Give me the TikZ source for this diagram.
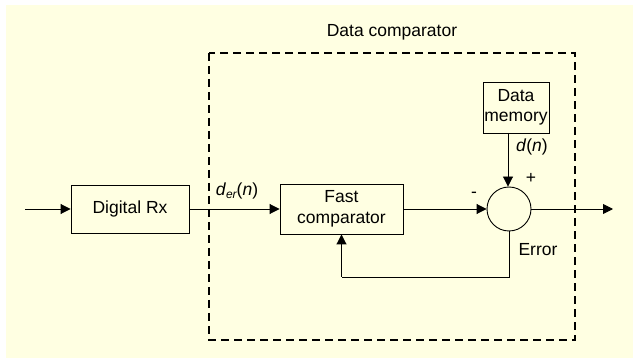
\documentclass[tikz,border=0pt]{standalone}
\usepackage{fontspec}
\setmainfont{Liberation Sans}
\usetikzlibrary{arrows.meta}
\definecolor{paper}{RGB}{255,255,226}
\begin{document}
\begin{tikzpicture}[x=1pt,y=-1pt,
  every node/.style={font=\fontsize{17.5}{20.5}\selectfont, inner sep=0pt},
  block/.style={draw, line width=0.9pt, align=center, minimum width=#1},
  sig/.style={draw, line width=0.9pt, -{Triangle[length=10pt,width=10pt]}},
  wire/.style={draw, line width=0.9pt},
  frame/.style={draw, line width=1.8pt, dash pattern=on 8pt off 5pt}]
  \useasboundingbox (0,0) rectangle (633,358);
  \fill[paper] (6,5) rectangle (633,358);

  % dashed enclosure and its title
  \draw[frame] (209,53) rectangle (575,340);
  \node (title) at (392,32) {Data comparator};

  % blocks
  \node[block=118pt, minimum height=48pt] (rx) at (130,209) {Digital Rx};
  \node[block=123pt, minimum height=50pt] (fast) at (341.5,209) {Fast\\comparator};
  \node[block=66pt, minimum height=51pt] (mem) at (516,107.5) {Data\\memory};
  \node[draw, circle, line width=0.9pt, minimum size=44pt] (sum) at (509,209) {};

  \coordinate (in) at (25,209);
  \coordinate (out) at (613,209);
  \coordinate (memout) at (508,133);
  \coordinate (fbr) at (509,277);
  \coordinate (fbl) at (341.5,277);

  % signal paths
  \draw[sig] (in) -- (rx.west);
  \draw[sig] (rx.east) -- (fast.west);
  \draw[sig] (fast.east) -- (sum.west);
  \draw[sig] (memout) -- (memout |- sum.north);
  \draw[sig] (sum.east) -- (out);
  \draw[wire] (sum.south) -- (fbr) -- (fbl);
  \draw[sig] (fbl) -- (fast.south);

  % labels
  \node (der) at (237,191) {\textit{d}\raisebox{-0.3ex}{\fontsize{12}{12}\selectfont\itshape er}(\textit{n})};
  \node (dn) at (532,147) {\textit{d}(\textit{n})};
  \node (plus) at (531,178) {+};
  \node (minus) at (474,195) {-};
  \node (err) at (538,250) {Error};
\end{tikzpicture}
\end{document}
